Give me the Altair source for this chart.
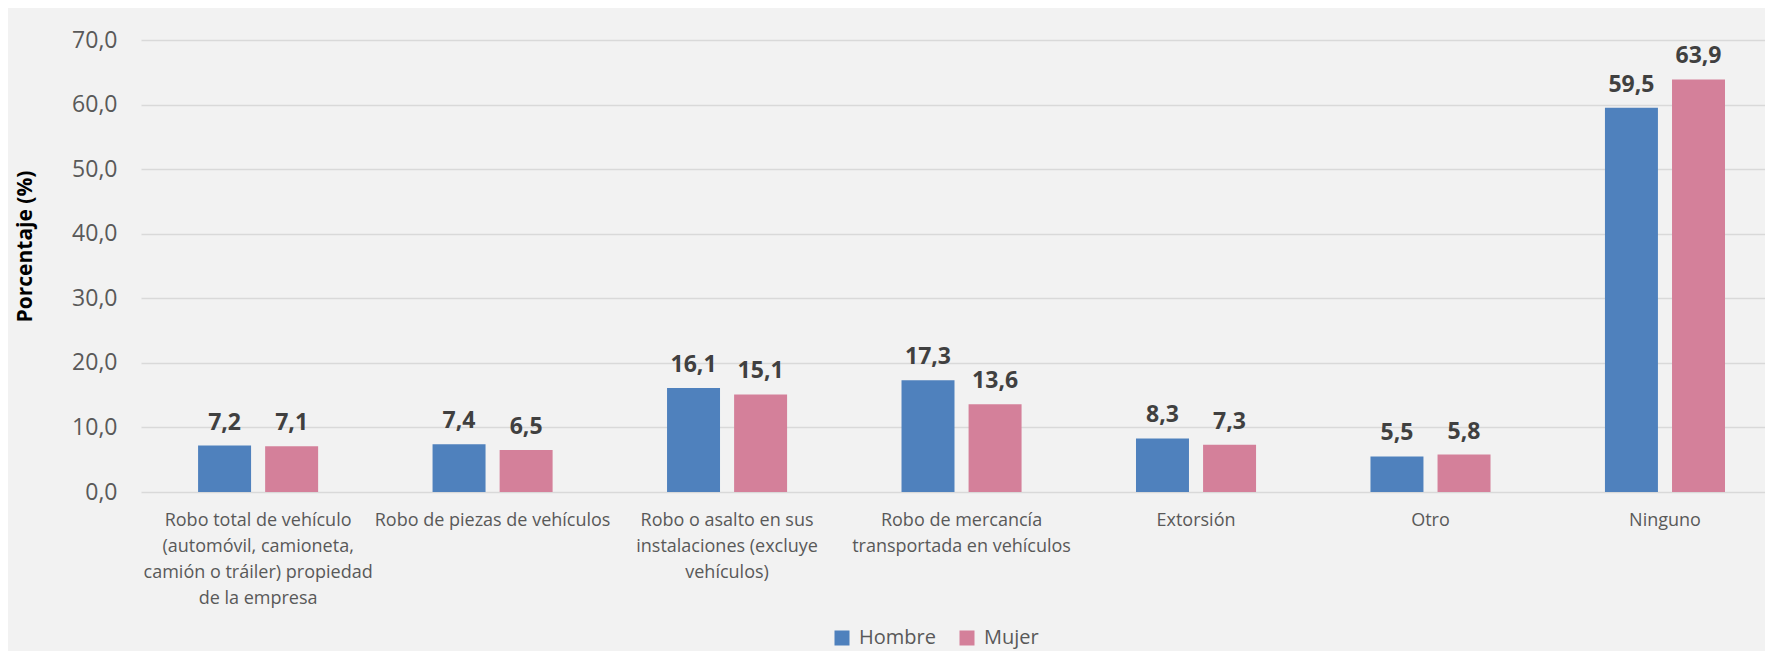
import altair as alt
import pandas as pd

categories = [
    "Robo total de vehículo (automóvil, camioneta, camión o tráiler) propiedad de la empresa",
    "Robo de piezas de vehículos",
    "Robo o asalto en sus instalaciones (excluye vehículos)",
    "Robo de mercancía transportada en vehículos",
    "Extorsión",
    "Otro",
    "Ninguno",
]
label_lines = [
    ["Robo total de vehículo", "(automóvil, camioneta,", "camión o tráiler) propiedad", "de la empresa"],
    ["Robo de piezas de vehículos"],
    ["Robo o asalto en sus", "instalaciones (excluye", "vehículos)"],
    ["Robo de mercancía", "transportada en vehículos"],
    ["Extorsión"],
    ["Otro"],
    ["Ninguno"],
]
series = ["Hombre", "Mujer"]
hombre = [7.2, 7.4, 16.1, 17.3, 8.3, 5.5, 59.5]
mujer = [7.1, 6.5, 15.1, 13.6, 7.3, 5.8, 63.9]
colors = ["#4F81BD", "#D4809A"]

rows = []
for c, h, m in zip(categories, hombre, mujer):
    rows.append({"cat": c, "sexo": "Hombre", "v": h})
    rows.append({"cat": c, "sexo": "Mujer", "v": m})
df = pd.DataFrame(rows)

def js_str(s):
    return "'" + s.replace("'", "\\'") + "'"

expr = "datum.label"
for c, lines in reversed(list(zip(categories, label_lines))):
    arr = "[" + ",".join(js_str(l) for l in lines) + "]"
    expr = f"datum.value == {js_str(c)} ? {arr} : ({expr})"

FONT = "Open Sans"

x = alt.X(
    "cat:N",
    sort=categories,
    title=None,
    scale=alt.Scale(paddingInner=0.488, paddingOuter=0.207, align=0.588, round=False),
    axis=alt.Axis(
        labelExpr=expr,
        labelAngle=0,
        labelFont=FONT,
        labelFontSize=18,
        labelColor="#595959",
        labelLineHeight=26,
        labelPadding=19,
        labelBaseline="top",
        ticks=False,
        tickSize=0,
        domain=False,
        grid=False,
        labelLimit=400,
    ),
)
xo = alt.XOffset("sexo:N", sort=series, scale=alt.Scale(paddingInner=0.21, paddingOuter=0))
y = alt.Y(
    "v:Q",
    title="Porcentaje (%)",
    scale=alt.Scale(domain=[0, 70], nice=False),
    axis=alt.Axis(
        values=[0, 10, 20, 30, 40, 50, 60, 70],
        labelExpr="replace(format(datum.value, '.1f'), '.', ',')",
        labelFont=FONT,
        labelFontSize=23,
        labelColor="#595959",
        labelPadding=24,
        ticks=False,
        tickSize=0,
        domain=False,
        grid=True,
        gridColor="#D9D9D9",
        gridWidth=1.5,
        titleFont=FONT,
        titleFontSize=21,
        titleFontWeight="bold",
        titleColor="#000000",
        titleX=-110,
        titleY=206,
        titleAngle=270,
        titleAlign="center",
        titleBaseline="alphabetic",
    ),
)

bars = alt.Chart(df).mark_bar().encode(
    x=x,
    xOffset=xo,
    y=y,
    color=alt.Color(
        "sexo:N",
        sort=series,
        scale=alt.Scale(domain=series, range=colors),
        title=None,
        legend=alt.Legend(
            orient="none",
            legendX=691,
            legendY=588,
            direction="horizontal",
            symbolType="square",
            symbolSize=225,
            symbolStrokeWidth=0,
            symbolOpacity=1,
            labelFont=FONT,
            labelFontSize=20,
            labelColor="#595959",
            labelOffset=7,
            columnPadding=21,
            padding=0,
        ),
    ),
)

text = alt.Chart(df).transform_calculate(
    lab="replace(format(datum.v, '.1f'), '.', ',')"
).mark_text(
    font=FONT, fontSize=23, fontWeight="bold", color="#404040",
    baseline="alphabetic", dy=-16
).encode(x=x, xOffset=xo, y=alt.Y("v:Q"), text="lab:N")

chart = (
    alt.layer(bars, text)
    .properties(
        width=1624,
        height=452,
        autosize=alt.AutoSizeParams(type="none"),
        padding={"left": 133, "top": 32, "right": 0, "bottom": 159},
        background="#F2F2F2",
    )
    .configure_view(stroke=None)
)

chart.save("out.html", embed_options={"renderer": "svg", "actions": False})
